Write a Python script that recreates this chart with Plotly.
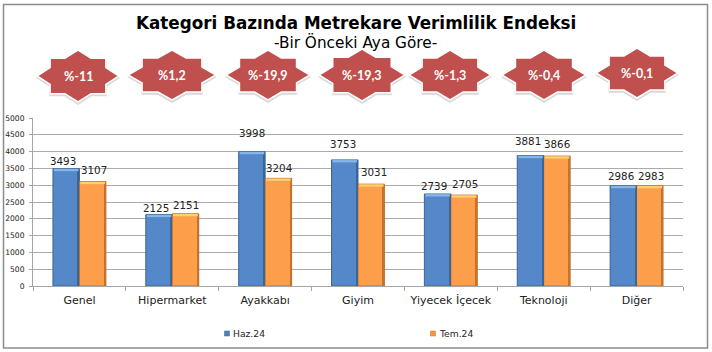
import plotly.graph_objects as go

W, H = 712, 352
L, R, T, B = 33, 683, 118, 286

categories = ["Genel", "Hipermarket", "Ayakkabı", "Giyim", "Yiyecek İçecek", "Teknoloji", "Diğer"]
haz = [3493, 2125, 3998, 3753, 2739, 3881, 2986]
tem = [3107, 2151, 3204, 3031, 2705, 3866, 2983]
changes = ["%-11", "%1,2", "%-19,9", "%-19,3", "%-1,3", "%-0,4", "%-0,1"]
series_names = ["Haz.24", "Tem.24"]
title = "Kategori Bazında Metrekare Verimlilik Endeksi"
subtitle = "-Bir Önceki Aya Göre-"

BLUE, ORANGE = "#4F81BD", "#F79646"
BLUE_F, ORANGE_F = "#5488C8", "#FD9E4A"
BLUE_E, ORANGE_E = "#3A6595", "#C4732F"
BLUE_C, ORANGE_C = "#86B6EA", "#FFD070"

# star layout: cx, cy, half-width, half-height (pixels)
star_cx = [78, 172, 268, 362, 450, 544, 637]
star_cy = [76, 75, 75, 75, 75, 75, 73]
star_hw = [41, 44, 42, 43, 41, 42, 41]
star_hh = [26, 25, 25, 26, 25, 25, 25]

# label placement offsets relative to the bar's top centre (pixels)
haz_dx = [-3, -3, 0, -2, -4, -2, -2]
haz_dy = [8, 7, 19, 16, 8, 15, 10]
tem_dx = [1, 0, 1, 3, 1, 0, 1]
tem_dy = [12, 9, 10, 12, 11, 12, 10]


def pxx(x):
    return (x - L) / (R - L)


def pxy(y):
    return (B - y) / (B - T)


def star_path(cx, cy, hw, hh):
    sx, sy = hw * 0.68, hh * 0.68
    ix = hw * (1 - sy / hh)
    iy = hh * (1 - sx / hw)
    q = [(0, -hh), (ix, -sy), (sx, -sy), (sx, -iy), (hw, 0), (sx, iy), (sx, sy), (ix, sy),
         (0, hh), (-ix, sy), (-sx, sy), (-sx, iy), (-hw, 0), (-sx, -iy), (-sx, -sy), (-ix, -sy)]
    pts = [f"{pxx(cx + a):.5f},{pxy(cy + b):.5f}" for a, b in q]
    return "M" + " L".join(pts) + " Z"


def ptext(text, x, y, size, family="DejaVu Sans", color="#000000", anchor="center"):
    return dict(text=text, xref="paper", yref="paper", x=pxx(x), y=pxy(y), showarrow=False,
                xanchor=anchor, yanchor="middle", font=dict(family=family, size=size, color=color))


shapes = [dict(type="rect", xref="paper", yref="paper", x0=pxx(3.5), x1=pxx(707.5), y0=pxy(348), y1=pxy(4.5),
               line=dict(color="#8C8C8C", width=1.5), layer="below")]
for cx, cy, hw, hh in zip(star_cx, star_cy, star_hw, star_hh):
    shapes.append(dict(type="path", xref="paper", yref="paper", path=star_path(cx, cy + 2, hw + 1, hh + 1),
                       fillcolor="#D9D9D9", line=dict(width=0), layer="below"))
    shapes.append(dict(type="path", xref="paper", yref="paper", path=star_path(cx, cy, hw, hh),
                       fillcolor="#C0504D", line=dict(color="#FFFFFF", width=1.5), layer="below"))

# legend swatches and labels
legend_x = [227, 433]
for lx, col, edge, name in zip(legend_x, [BLUE, ORANGE], [BLUE_E, ORANGE_E], series_names):
    shapes.append(dict(type="rect", xref="paper", yref="paper", x0=pxx(lx - 2.5), x1=pxx(lx + 2.5),
                       y0=pxy(336), y1=pxy(331), fillcolor=col, line=dict(color=edge, width=0.5)))

BW = 0.285
annotations = [
    ptext(f"<b>{title}</b>", 355.5, 23, 16.8),
    ptext(subtitle, 355.5, 42, 15.3),
]
for lx, name in zip(legend_x, series_names):
    annotations.append(ptext(name, lx + 4, 333.5, 9.2, color="#222222", anchor="left"))
for i, t in enumerate(changes):
    annotations.append(ptext(f"<b>{t}</b>", star_cx[i], star_cy[i] + 0.5, 12.5, family="Lato", color="#FFFFFF"))
for i in range(len(categories)):
    annotations.append(dict(text=str(haz[i]), x=i - BW / 2, y=haz[i], xref="x", yref="y", showarrow=False,
                            xshift=haz_dx[i], yshift=haz_dy[i], font=dict(family="DejaVu Sans", size=10.3, color="#222222")))
    annotations.append(dict(text=str(tem[i]), x=i + BW / 2, y=tem[i], xref="x", yref="y", showarrow=False,
                            xshift=tem_dx[i], yshift=tem_dy[i], font=dict(family="DejaVu Sans", size=10.3, color="#222222")))

fig = go.Figure()
fig.add_bar(x=categories, y=haz, name=series_names[0], offsetgroup="a",
            marker=dict(color=BLUE_F, line=dict(color=BLUE_E, width=1)), width=BW, offset=-BW)
fig.add_bar(x=categories, y=tem, name=series_names[1], offsetgroup="b",
            marker=dict(color=ORANGE_F, line=dict(color=ORANGE_E, width=1)), width=BW, offset=0)
# bevel: darker strip on the right of every bar
fig.add_bar(x=categories, y=haz, hoverinfo="skip", marker=dict(color=BLUE_E, line=dict(width=0)),
            width=0.012, offset=-0.016)
fig.add_bar(x=categories, y=tem, hoverinfo="skip", marker=dict(color=ORANGE_E, line=dict(width=0)),
            width=0.012, offset=BW - 0.016)
# bevel: highlight along the top of every bar
fig.add_bar(x=categories, y=[70] * 7, base=[v - 75 for v in haz], hoverinfo="skip",
            marker=dict(color=BLUE_C, line=dict(width=0)), width=BW - 0.02, offset=-BW + 0.01)
fig.add_bar(x=categories, y=[70] * 7, base=[v - 75 for v in tem], hoverinfo="skip",
            marker=dict(color=ORANGE_C, line=dict(width=0)), width=BW - 0.02, offset=0.01)

fig.update_layout(
    width=W, height=H, autosize=False,
    margin=dict(l=L, r=W - R, t=T, b=H - B),
    paper_bgcolor="#FFFFFF", plot_bgcolor="#FFFFFF",
    barmode="overlay", showlegend=False,
    shapes=shapes, annotations=annotations,
    font=dict(family="DejaVu Sans", color="#222222"),
    xaxis=dict(type="category", categoryorder="array", categoryarray=categories, tickson="boundaries",
               ticks="outside", ticklen=4, tickcolor="#A6A6A6", showgrid=False, automargin=False,
               showline=True, linecolor="#A6A6A6", linewidth=1, ticklabelstandoff=4,
               tickfont=dict(family="DejaVu Sans", size=11, color="#222222"), range=[-0.5, 6.5]),
    yaxis=dict(range=[0, 5000], dtick=500, ticks="outside", ticklen=3, tickcolor="#A6A6A6", automargin=False,
               gridcolor="#ABABAB", gridwidth=1.4, showline=True, linecolor="#A6A6A6", zeroline=False,
               ticklabelstandoff=3, tickfont=dict(family="DejaVu Sans", size=7.6, color="#222222")),
)
fig.write_html("out.html", config={"displayModeBar": False},
               post_script="document.body.style.margin='0';document.body.style.overflow='hidden';")
